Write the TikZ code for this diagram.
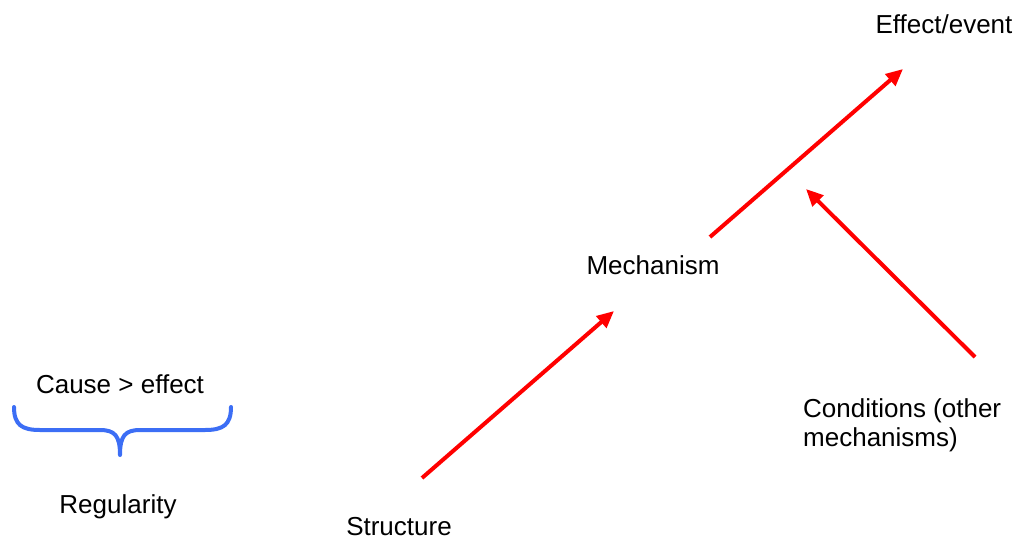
\documentclass[tikz,border=0pt]{standalone}
\usepackage{fontspec}
\setmainfont{Liberation Sans}
\usetikzlibrary{arrows.meta}
\definecolor{arrowred}{RGB}{255,0,0}
\definecolor{braceblue}{RGB}{60,110,245}
\begin{document}
\begin{tikzpicture}[x=1pt,y=-1pt,
  lbl/.style={inner sep=0pt,font=\fontsize{26}{29}\selectfont},
  redarrow/.style={draw=arrowred,line width=4pt,
    -{Triangle[length=17pt,width=15pt]}},
  bracestyle/.style={draw=braceblue,line width=4pt,line cap=round,line join=round}]
\useasboundingbox (0,0) rectangle (1023,539);
\node[lbl] (effect) at (944,24) {Effect/event};
\node[lbl] (mech) at (653,265) {Mechanism};
\node[lbl] (cause) at (120,384) {Cause > effect};
\node[lbl] (reg) at (118,507) {Regularity};
\node[lbl] (struct) at (399,527) {Structure};
\node[lbl,align=left,anchor=north west] (cond) at (803,398) {Conditions (other\\mechanisms)};
\coordinate (s1) at (422,478);
\coordinate (e1) at (614,311);
\coordinate (s2) at (710,237);
\coordinate (e2) at (903,69);
\coordinate (s3) at (975,357);
\coordinate (e3) at (806,189);
\draw[redarrow] (s1) -- (e1);
\draw[redarrow] (s2) -- (e2);
\draw[redarrow] (s3) -- (e3);
\coordinate (bl) at (14,407);
\coordinate (br) at (231,407);
\coordinate (bt) at (120,455);
\draw[bracestyle] (bl) .. controls (14,425) and (22,430) .. (40,430)
  -- (100,430) .. controls (115,430) and (120,436) .. (bt)
  (bt) .. controls (120,436) and (125,430) .. (140,430)
  -- (205,430) .. controls (223,430) and (231,425) .. (br);
\end{tikzpicture}
\end{document}
